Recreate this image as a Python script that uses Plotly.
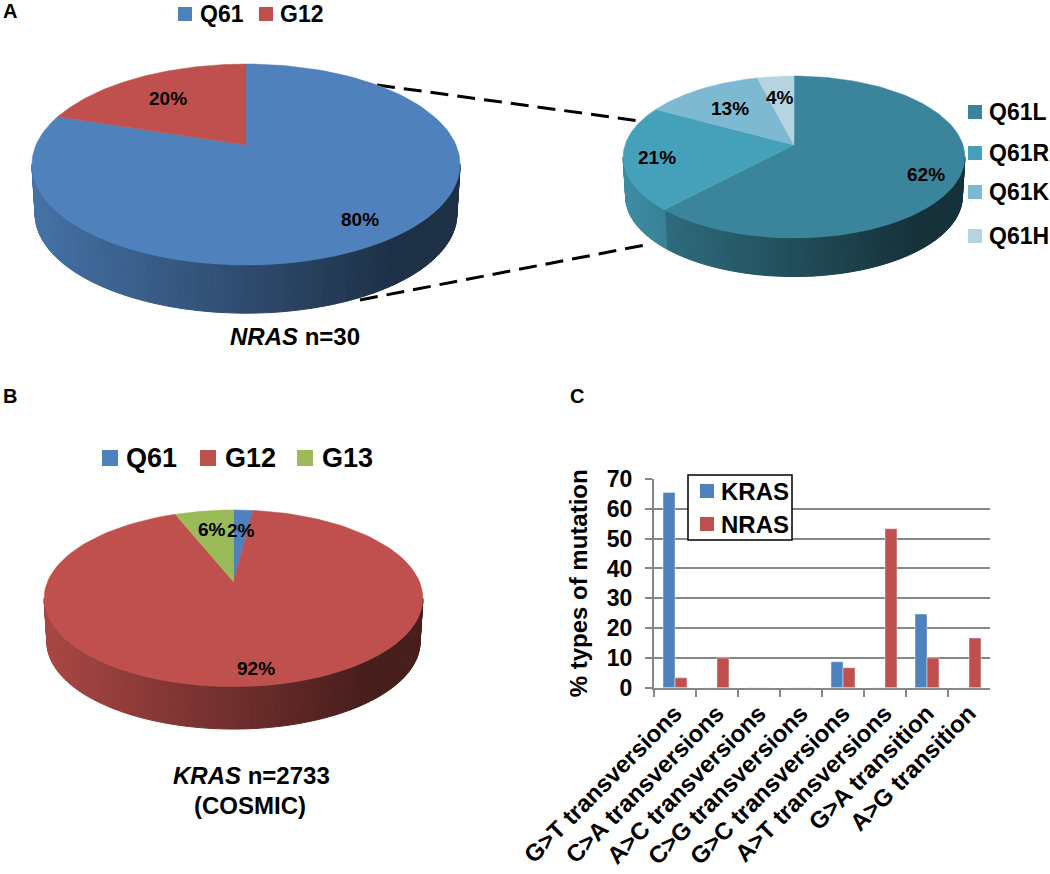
import numpy as np
import plotly.graph_objects as go

# pie values (percent), clockwise from 12 o'clock
nras_labels = ['Q61', 'G12']
nras_values = [80, 20]
q61_labels = ['Q61L', 'Q61R', 'Q61K', 'Q61H']
q61_values = [62, 21, 13, 4]
kras_labels = ['Q61', 'G12', 'G13']
kras_values = [2, 92, 6]

# panel C
mutation_types = ['G>T transversions', 'C>A transversions', 'A>C transversions', 'C>G transversions',
                  'G>C transversions', 'A>T transversions', 'G>A transition', 'A>G transition']
kras_pct = [65.5, 0, 0, 0, 8.7, 0, 24.7, 0]
nras_pct = [3.3, 10, 0, 0, 6.7, 53.3, 10, 16.7]

BLUE, RED, GREEN = '#4F81BD', '#C0504D', '#9BBB59'
TEAL = ['#3A859B', '#45A0BA', '#7DB9D0', '#B6D3E0']
FONT = 'Liberation Sans'


def shade(color, f):
    r, g, b = [int(color[i:i + 2], 16) for i in (1, 3, 5)]
    return f'rgb({r * f:.0f},{g * f:.0f},{b * f:.0f})'


def rim(a, k, cx, cy, sx, sy):
    # perspective circle, a in degrees clockwise from the top
    u, v = np.sin(np.radians(a)), np.cos(np.radians(a))
    return cx + sx * u / (1 + k * v), cy - sy * v / (1 + k * v)


def add_pie(fig, values, colors, cx, cy, sx, sy, k, depth):
    edges = np.cumsum([0] + values) / sum(values) * 360
    left, right = cx - sx * 1.02, cx + sx * 1.02
    start = np.degrees(np.arccos(-k))
    # side wall: thin strips, darker to the right
    for a in np.arange(start, 360 - start, 1.5):
        b = min(a + 1.5, 360 - start)
        i = min(np.searchsorted(edges, (a + b) / 2) - 1, len(colors) - 1)
        x0, y0 = rim(a, k, cx, cy, sx, sy)
        x1, y1 = rim(b, k, cx, cy, sx, sy)
        x2, y2 = rim(b, k, cx, cy + depth, sx * 0.985, sy * 0.985)
        x3, y3 = rim(a, k, cx, cy + depth, sx * 0.985, sy * 0.985)
        t = ((x0 + x1) / 2 - left) / (right - left)
        c = shade(colors[i], max(0.88 - 0.6 * t, 0.37))
        fig.add_trace(go.Scatter(x=[x0, x1, x2, x3, x0], y=[y0, y1, y2, y3, y0], mode='lines',
                                 fill='toself', fillcolor=c, line=dict(color=c, width=1),
                                 hoverinfo='skip', showlegend=False))
    # top face
    for i, c in enumerate(colors):
        a = np.linspace(edges[i], edges[i + 1], 120)
        x, y = rim(a, k, cx, cy, sx, sy)
        fig.add_trace(go.Scatter(x=np.r_[cx, x, cx], y=np.r_[cy, y, cy], mode='lines',
                                 fill='toself', fillcolor=c, line=dict(color=c, width=0.5),
                                 hoverinfo='skip', showlegend=False))


fig = go.Figure()

add_pie(fig, nras_values, [BLUE, RED], 246, 145, 210, 96.7, 0.194, 50)
add_pie(fig, q61_values, TEAL, 794, 145, 169, 79.2, 0.148, 40)
add_pie(fig, kras_values, [BLUE, RED, GREEN], 233.5, 581.7, 186, 85.2, 0.188, 44)

fig.add_trace(go.Bar(x=mutation_types, y=kras_pct, name='KRAS', marker_color=BLUE, xaxis='x2', yaxis='y2',
                     showlegend=False))
fig.add_trace(go.Bar(x=mutation_types, y=nras_pct, name='NRAS', marker_color=RED, xaxis='x2', yaxis='y2',
                     showlegend=False))

shapes = []
annotations = []


def text(x, y, s, size, anchor='center', weight='bold'):
    annotations.append(dict(x=x, y=y, xref='x', yref='y', text=s, showarrow=False, xanchor=anchor,
                            yanchor='middle', font=dict(family=FONT, size=size, color='#000000', weight=weight)))


def swatch(x, y, size, color):
    shapes.append(dict(type='rect', xref='x', yref='y', x0=x, x1=x + size, y0=y - size / 2, y1=y + size / 2,
                       fillcolor=color, line_width=0))


# zoom lines between the two pies
for p in [(377, 85, 640, 121), (360, 300, 645, 245)]:
    shapes.append(dict(type='line', xref='x', yref='y', x0=p[0], y0=p[1], x1=p[2], y1=p[3], layer='below',
                       line=dict(color='#000000', width=3, dash='18px,9px')))

# panel letters
text(10, 11, 'A', 20)
text(10, 396, 'B', 20)
text(577, 396, 'C', 20)

# legend A
swatch(178, 14, 14, BLUE)
text(198, 14, nras_labels[0], 23, 'left')
swatch(259, 14, 14, RED)
text(278, 14, nras_labels[1], 23, 'left')

# legend of the teal pie
for name, c, y in zip(q61_labels, TEAL, [112, 153, 192, 236]):
    swatch(968, y, 14, c)
    text(987, y, name, 23, 'left')

# legend B
for name, c, xs, xt in zip(kras_labels, [BLUE, RED, GREEN], [102, 200, 297], [124, 223, 320]):
    swatch(xs, 458, 16, c)
    text(xt, 458, name, 27, 'left')

# percent labels
for v, (x, y) in zip(nras_values, [(360, 219), (168, 98)]):
    text(x, y, f'{v}%', 19)
for v, (x, y) in zip(q61_values, [(926, 174), (657, 157), (730, 108), (780, 97)]):
    text(x, y, f'{v}%', 19)
for v, (x, y) in zip(kras_values, [(241, 530), (256, 668), (212, 529)]):
    text(x, y, f'{v}%', 19)

text(295, 336, '<i>NRAS</i> n=30', 24)
text(251, 775, '<i>KRAS</i> n=2733', 24)
text(250, 805, '(COSMIC)', 24)

# legend C
shapes.append(dict(type='rect', xref='x', yref='y', x0=688, x1=792, y0=475, y1=540, fillcolor='#FFFFFF',
                   line=dict(color='#000000', width=1.5)))
swatch(700, 491, 14, BLUE)
text(719, 491, 'KRAS', 24, 'left')
swatch(700, 524, 14, RED)
text(719, 524, 'NRAS', 24, 'left')

GREY = '#868686'
fig.update_layout(
    width=1050, height=874, margin=dict(l=0, r=0, t=0, b=0), autosize=False,
    paper_bgcolor='#FFFFFF', plot_bgcolor='rgba(0,0,0,0)',
    barmode='group', bargap=0.43, bargroupgap=0,
    shapes=shapes, annotations=annotations,
    xaxis=dict(domain=[0, 1], range=[0, 1050], visible=False, automargin=False),
    yaxis=dict(domain=[0, 1], range=[874, 0], visible=False, automargin=False),
    xaxis2=dict(domain=[654 / 1050, 990 / 1050], anchor='y2', type='category', tickangle=-45,
                tickson='boundaries', ticks='outside', ticklen=7, tickwidth=2, tickcolor=GREY,
                showline=True, linecolor=GREY, linewidth=2, showgrid=False, automargin=False,
                tickfont=dict(family=FONT, size=24, color='#000000', weight='bold')),
    yaxis2=dict(domain=[1 - 687.7 / 874, 1 - 479 / 874], anchor='x2', range=[0, 70], dtick=10,
                ticks='outside', ticklen=7, tickwidth=2, tickcolor=GREY, showline=True, linecolor=GREY,
                linewidth=2, showgrid=True, gridcolor=GREY, gridwidth=2, zeroline=False, automargin=False,
                ticklabelstandoff=8,
                tickfont=dict(family=FONT, size=23, color='#000000', weight='bold'),
                title=dict(text='% types of mutation', standoff=12,
                           font=dict(family=FONT, size=24, color='#000000', weight='bold'))),
)

fig.write_html("out.html", config=dict(displayModeBar=False),
               post_script="document.body.style.margin='0';")
